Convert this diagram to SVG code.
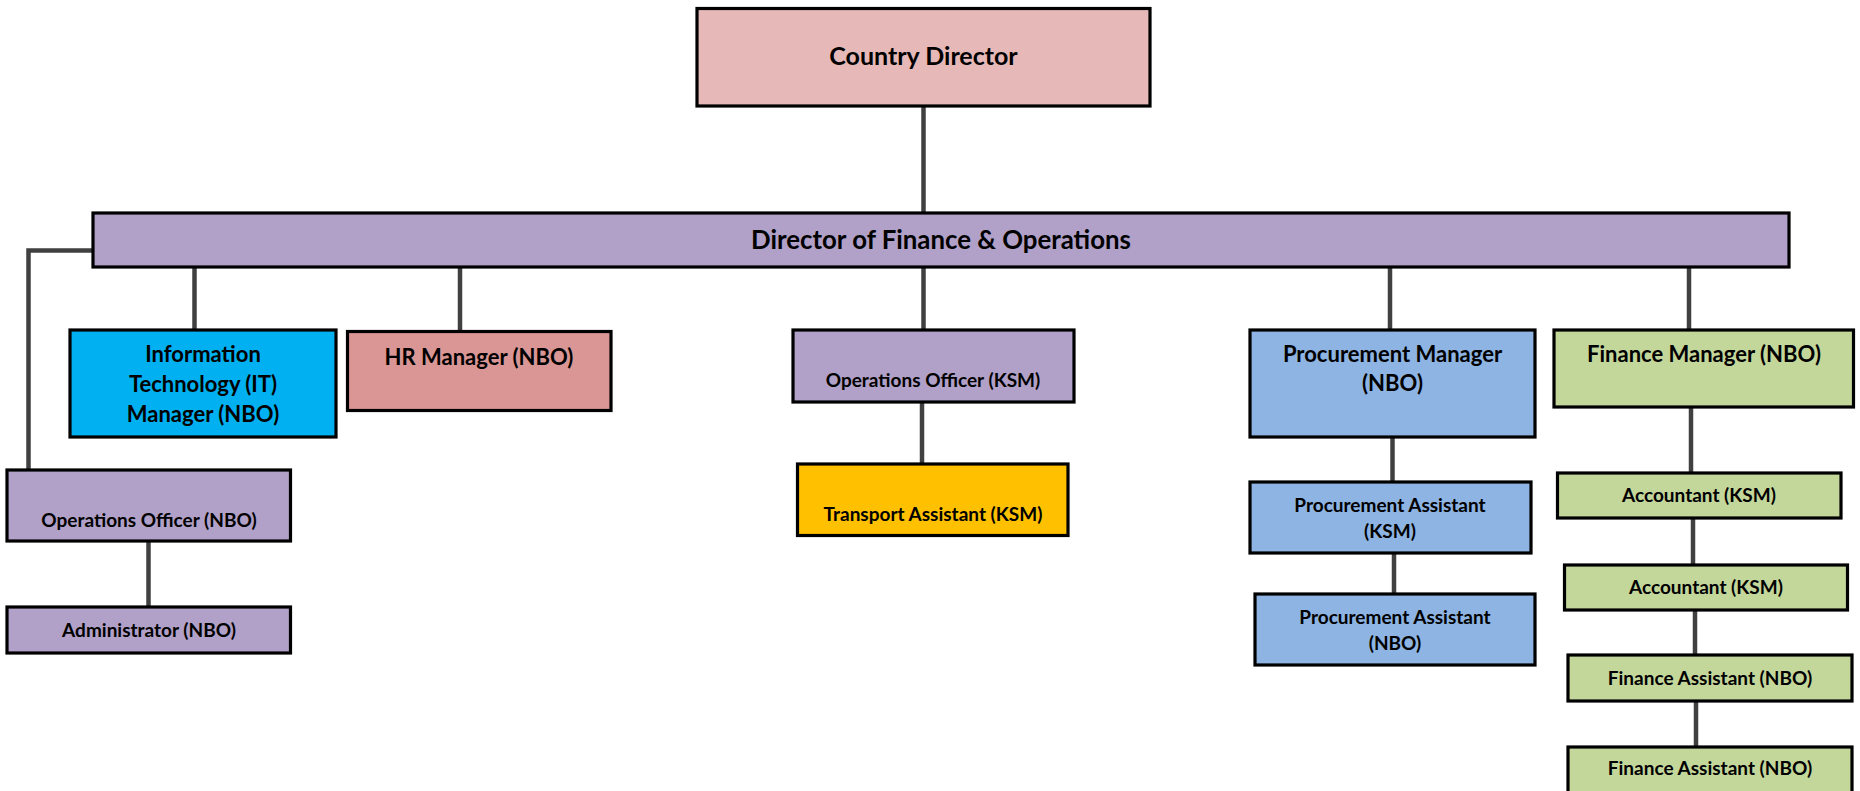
<svg xmlns="http://www.w3.org/2000/svg" width="1860" height="791" viewBox="0 0 1860 791">
<style>
.b{stroke:#000;stroke-width:3.2}
.t{font-family:Lato,"Liberation Sans",sans-serif;font-weight:bold;fill:#000;text-anchor:middle}
.xl{font-size:25px}
.dfo{font-size:25.8px}
.l{font-size:22px}
.s{font-size:19px}
.pink{fill:#E6B8B7}
.purple{fill:#B1A0C7}
.cyan{fill:#00B0F0}
.salmon{fill:#DA9694}
.gold{fill:#FFC000}
.blue{fill:#8DB4E2}
.green{fill:#C4D79B}
.c{fill:none;stroke:#404040;stroke-width:4.5}
</style>
<rect width="1860" height="791" fill="#fff"/>
<g id="connectors">
<path class="c" d="M923.5,106V213"/>
<path class="c" d="M93,250.5H28.5V470"/>
<path class="c" d="M194.5,267V330"/>
<path class="c" d="M460,267V332"/>
<path class="c" d="M923.5,267V330"/>
<path class="c" d="M1390,267V330"/>
<path class="c" d="M1689,267V330"/>
<path class="c" d="M922,402V464"/>
<path class="c" d="M148.5,541V607"/>
<path class="c" d="M1392.5,437V482"/>
<path class="c" d="M1394,553V594"/>
<path class="c" d="M1691,407V473"/>
<path class="c" d="M1693,518V565"/>
<path class="c" d="M1695,610V655"/>
<path class="c" d="M1696,701V747"/>
</g>
<g id="country-director">
<rect class="b pink" x="697" y="8.5" width="453" height="97.5"/>
<text class="t xl" x="923.5" y="65">Country Director</text>
</g>
<g id="director-finance-operations">
<rect class="b purple" x="93" y="213" width="1696" height="54"/>
<text class="t dfo" x="941" y="249">Director of Finance &amp; Operations</text>
</g>
<g id="it-manager">
<rect class="b cyan" x="70" y="330" width="266" height="107"/>
<text class="t l" x="203" y="362">Information</text>
<text class="t l" x="203" y="392">Technology (IT)</text>
<text class="t l" x="203" y="422">Manager (NBO)</text>
</g>
<g id="hr-manager">
<rect class="b salmon" x="347.5" y="331.5" width="263.5" height="79"/>
<text class="t l" x="479" y="365">HR Manager (NBO)</text>
</g>
<g id="operations-officer-ksm">
<rect class="b purple" x="793" y="330" width="281" height="72"/>
<text class="t s" x="933" y="387">Operations Officer (KSM)</text>
</g>
<g id="transport-assistant">
<rect class="b gold" x="797.5" y="464" width="270.5" height="71.5"/>
<text class="t s" x="933" y="521">Transport Assistant (KSM)</text>
</g>
<g id="operations-officer-nbo">
<rect class="b purple" x="7" y="470" width="283.5" height="71"/>
<text class="t s" x="149" y="527">Operations Officer (NBO)</text>
</g>
<g id="administrator">
<rect class="b purple" x="7" y="607" width="283.5" height="46"/>
<text class="t s" x="149" y="637">Administrator (NBO)</text>
</g>
<g id="procurement-manager">
<rect class="b blue" x="1250" y="330" width="285" height="107"/>
<text class="t l" x="1392.5" y="362">Procurement Manager</text>
<text class="t l" x="1392.5" y="391">(NBO)</text>
</g>
<g id="finance-manager">
<rect class="b green" x="1554" y="330" width="299.5" height="77"/>
<text class="t l" x="1704" y="362">Finance Manager (NBO)</text>
</g>
<g id="procurement-assistant-ksm">
<rect class="b blue" x="1250" y="482" width="281" height="71"/>
<text class="t s" x="1390" y="512">Procurement Assistant</text>
<text class="t s" x="1390" y="538">(KSM)</text>
</g>
<g id="procurement-assistant-nbo">
<rect class="b blue" x="1255" y="594" width="280" height="71"/>
<text class="t s" x="1395" y="624">Procurement Assistant</text>
<text class="t s" x="1395" y="650">(NBO)</text>
</g>
<g id="accountant-1">
<rect class="b green" x="1557.5" y="473" width="283.5" height="45"/>
<text class="t s" x="1699" y="502">Accountant (KSM)</text>
</g>
<g id="accountant-2">
<rect class="b green" x="1564.5" y="565" width="283" height="45"/>
<text class="t s" x="1706" y="594">Accountant (KSM)</text>
</g>
<g id="finance-assistant-1">
<rect class="b green" x="1568" y="655" width="284" height="46"/>
<text class="t s" x="1710" y="685">Finance Assistant (NBO)</text>
</g>
<g id="finance-assistant-2">
<rect class="b green" x="1568" y="747" width="284" height="60"/>
<text class="t s" x="1710" y="775">Finance Assistant (NBO)</text>
</g>
</svg>
